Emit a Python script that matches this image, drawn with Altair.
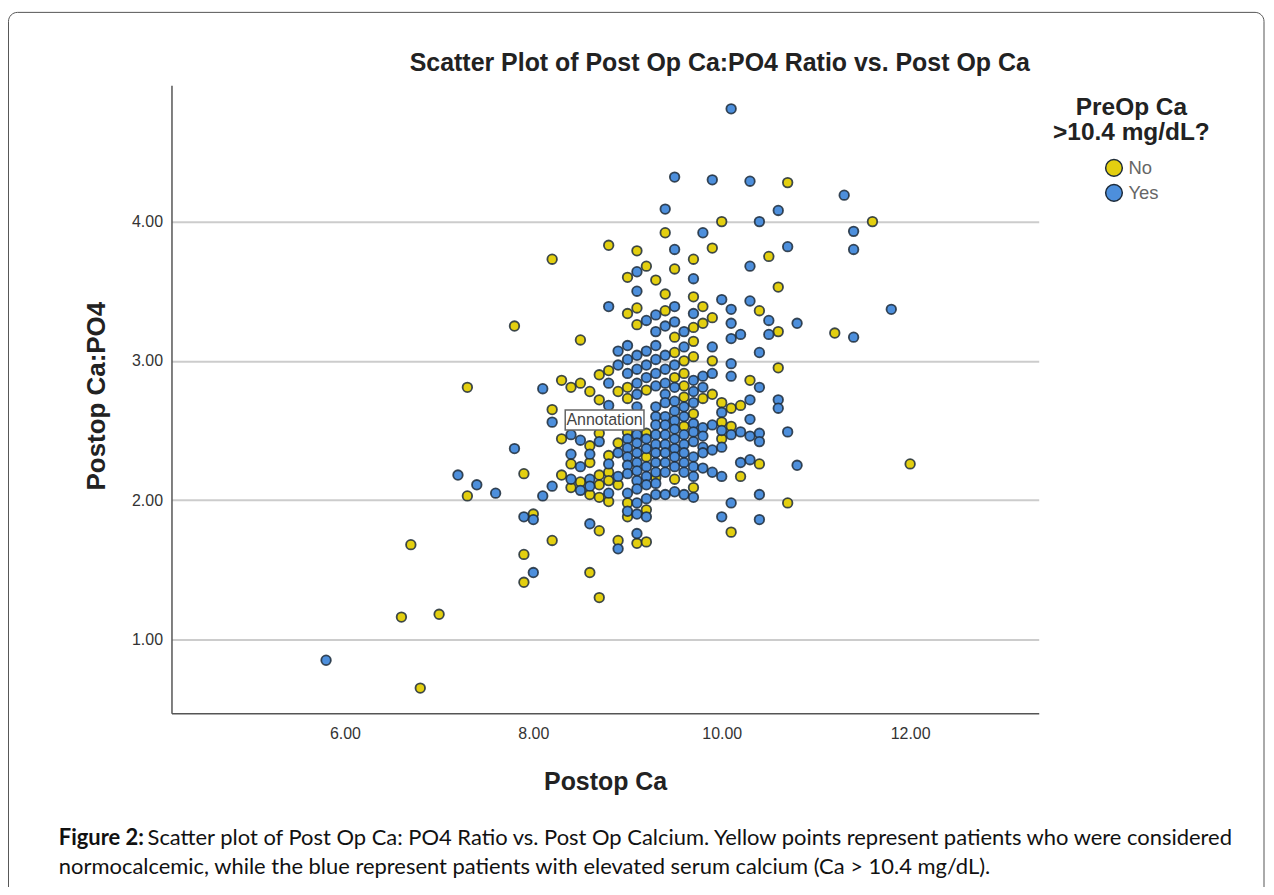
import altair as alt
import pandas as pd

NO_POINTS = [(6.6,1.16),(6.7,1.68),(6.8,0.65),(7.0,1.18),(7.3,2.81),(7.3,2.03),(7.8,3.25),(7.9,2.19),(7.9,1.61),(7.9,1.41),
 (8.0,1.90),(8.2,3.73),(8.2,2.65),(8.2,1.71),(8.3,2.86),(8.3,2.44),(8.3,2.18),(8.4,2.81),(8.4,2.26),(8.4,2.09),
 (8.5,3.15),(8.5,2.84),(8.5,2.13),(8.6,2.78),(8.6,2.39),(8.6,2.27),(8.6,2.04),(8.6,1.48),(8.7,2.90),(8.7,2.72),
 (8.7,2.48),(8.7,2.18),(8.7,2.11),(8.7,2.02),(8.7,1.78),(8.7,1.30),(8.8,3.83),(8.8,2.93),(8.8,2.32),(8.8,2.20),
 (8.8,2.14),(8.8,1.99),(8.9,2.78),(8.9,2.41),(8.9,2.11),(8.9,1.71),(9.0,3.60),(9.0,3.34),(9.0,2.81),(9.0,2.73),
 (9.0,2.49),(9.0,1.98),(9.0,1.88),(9.1,3.79),(9.1,3.38),(9.1,3.26),(9.1,1.69),(9.2,3.68),(9.2,2.79),(9.2,2.48),
 (9.2,2.31),(9.2,1.93),(9.2,1.70),(9.3,3.58),(9.3,2.16),(9.4,3.92),(9.4,3.48),(9.4,3.36),(9.5,3.66),(9.5,3.17),
 (9.5,3.06),(9.5,2.88),(9.5,2.15),(9.6,3.00),(9.6,2.91),(9.6,2.82),(9.6,2.74),(9.6,2.53),(9.7,3.73),(9.7,3.46),
 (9.7,3.24),(9.7,3.14),(9.7,3.03),(9.7,2.62),(9.7,2.09),(9.8,3.39),(9.8,3.27),(9.8,2.73),(9.9,3.81),(9.9,3.31),
 (9.9,3.00),(9.9,2.76),(10.0,4.00),(10.0,2.70),(10.0,2.56),(10.0,2.44),(10.1,2.66),(10.1,2.53),(10.1,1.77),(10.2,2.68),
 (10.2,2.17),(10.3,2.86),(10.4,3.36),(10.4,2.26),(10.5,3.75),(10.6,3.53),(10.6,3.21),(10.6,2.95),(10.7,4.28),(10.7,1.98),
 (11.2,3.20),(11.6,4.00),(12.0,2.26)]

YES_POINTS = [(5.8,0.85),(7.2,2.18),(7.4,2.11),(7.6,2.05),(7.8,2.37),(7.9,1.88),(8.0,1.86),(8.0,1.48),(8.1,2.80),(8.1,2.03),
 (8.2,2.56),(8.2,2.10),(8.4,2.47),(8.4,2.33),(8.4,2.15),(8.5,2.43),(8.5,2.24),(8.5,2.07),(8.6,2.33),(8.6,2.15),
 (8.6,2.10),(8.6,1.83),(8.7,2.42),(8.8,3.39),(8.8,2.84),(8.8,2.68),(8.8,2.26),(8.8,2.05),(8.9,3.07),(8.9,2.97),
 (8.9,2.34),(8.9,2.17),(8.9,1.65),
 (9.0,3.11),(9.0,3.01),(9.0,2.91),(9.0,2.44),(9.0,2.375),(9.0,2.31),(9.0,2.25),(9.0,2.19),(9.0,2.05),(9.0,1.92),
 (9.1,3.64),(9.1,3.50),(9.1,3.04),(9.1,2.94),(9.1,2.84),(9.1,2.76),(9.1,2.67),(9.1,2.47),(9.1,2.41),(9.1,2.34),
 (9.1,2.27),(9.1,2.21),(9.1,2.14),(9.1,2.08),(9.1,1.98),(9.1,1.90),(9.1,1.76),
 (9.2,3.29),(9.2,3.07),(9.2,2.97),(9.2,2.88),(9.2,2.44),(9.2,2.37),(9.2,2.24),(9.2,2.17),(9.2,2.11),(9.2,2.01),(9.2,1.88),
 (9.3,3.33),(9.3,3.21),(9.3,3.11),(9.3,3.01),(9.3,2.91),(9.3,2.82),(9.3,2.67),(9.3,2.60),(9.3,2.54),(9.3,2.47),
 (9.3,2.40),(9.3,2.34),(9.3,2.27),(9.3,2.20),(9.3,2.12),(9.3,2.04),
 (9.4,4.09),(9.4,3.25),(9.4,3.04),(9.4,2.94),(9.4,2.84),(9.4,2.76),(9.4,2.70),(9.4,2.60),(9.4,2.54),(9.4,2.47),
 (9.4,2.40),(9.4,2.34),(9.4,2.27),(9.4,2.20),(9.4,2.04),
 (9.5,4.32),(9.5,3.80),(9.5,3.39),(9.5,3.28),(9.5,2.97),(9.5,2.81),(9.5,2.71),(9.5,2.64),(9.5,2.57),(9.5,2.51),
 (9.5,2.44),(9.5,2.37),(9.5,2.31),(9.5,2.24),(9.5,2.06),
 (9.6,3.21),(9.6,3.10),(9.6,2.67),(9.6,2.60),(9.6,2.47),(9.6,2.40),(9.6,2.34),(9.6,2.27),(9.6,2.20),(9.6,2.04),
 (9.7,3.59),(9.7,3.34),(9.7,2.86),(9.7,2.78),(9.7,2.70),(9.7,2.55),(9.7,2.49),(9.7,2.42),(9.7,2.31),(9.7,2.24),(9.7,2.17),(9.7,2.02),
 (9.8,3.92),(9.8,2.89),(9.8,2.81),(9.8,2.52),(9.8,2.46),(9.8,2.38),(9.8,2.34),(9.8,2.23),
 (9.9,4.30),(9.9,3.10),(9.9,2.91),(9.9,2.54),(9.9,2.36),(9.9,2.20),
 (10.0,3.44),(10.0,2.63),(10.0,2.50),(10.0,2.38),(10.0,2.17),(10.0,1.88),
 (10.1,4.81),(10.1,3.37),(10.1,3.27),(10.1,3.16),(10.1,2.98),(10.1,2.89),(10.1,2.47),(10.1,1.98),
 (10.2,3.19),(10.2,2.49),(10.2,2.27),
 (10.3,4.29),(10.3,3.68),(10.3,3.43),(10.3,2.72),(10.3,2.58),(10.3,2.46),(10.3,2.29),
 (10.4,4.00),(10.4,3.06),(10.4,2.81),(10.4,2.48),(10.4,2.42),(10.4,2.04),(10.4,1.86),
 (10.5,3.29),(10.5,3.19),(10.6,4.08),(10.6,2.72),(10.6,2.66),(10.7,3.82),(10.7,2.49),(10.8,3.27),(10.8,2.25),
 (11.3,4.19),(11.4,3.93),(11.4,3.80),(11.4,3.17),(11.8,3.37)]

GROUPS = ["No", "Yes"]
FILLS = ["#e3cf10", "#4d8fdc"]
X_TICKS = [6, 8, 10, 12]
Y_TICKS = [1, 2, 3, 4]
X_DOMAIN = [4.159, 13.365]
Y_DOMAIN = [0.47, 4.98]
TITLE = "Scatter Plot of Post Op Ca:PO4 Ratio vs. Post Op Ca"
CAPTION_BOLD = "Figure 2:"
CAPTION_1 = "Scatter plot of Post Op Ca: PO4 Ratio vs. Post Op Calcium. Yellow points represent patients who were considered"
CAPTION_2 = "normocalcemic, while the blue represent patients with elevated serum calcium (Ca > 10.4 mg/dL)."

rows = [{"Postop Ca": x, "Ratio": y, "Group": "No"} for x, y in NO_POINTS]
rows += [{"Postop Ca": x, "Ratio": y, "Group": "Yes"} for x, y in YES_POINTS]
df = pd.DataFrame(rows)
one = pd.DataFrame({"a": [0]})

PAD_L, PAD_T = 164, 76
SANS = "Liberation Sans"

frame = alt.Chart(one).mark_rect(fillOpacity=0, stroke="#555555", strokeWidth=1, cornerRadius=9, clip=False).encode(
    x=alt.value(-PAD_L + 0.5), x2=alt.value(1268 - 8 - PAD_L),
    y=alt.value(11 - 8 - PAD_T), y2=alt.value(960))

points = alt.Chart(df).mark_point(filled=True, shape="circle", size=92, stroke="#1d2b3a", strokeWidth=1.8,
                                  opacity=1, strokeOpacity=0.85).encode(
    x=alt.X("Postop Ca:Q", scale=alt.Scale(domain=X_DOMAIN, nice=False, zero=False),
            axis=alt.Axis(values=X_TICKS, format=".2f", grid=False, ticks=False, labelPadding=12,
                          labelFontSize=16, labelColor="#333333", labelFont=SANS,
                          domainColor="#555555", domainWidth=1.5,
                          title="Postop Ca", titleFont=SANS, titleFontSize=25, titleColor="#222222",
                          titleFontWeight="bold", titlePadding=29)),
    y=alt.Y("Ratio:Q", scale=alt.Scale(domain=Y_DOMAIN, nice=False, zero=False),
            axis=alt.Axis(values=Y_TICKS, format=".2f", grid=True, gridColor="#cccccc", gridWidth=2,
                          ticks=False, labelPadding=9, labelFontSize=16, labelColor="#333333", labelFont=SANS,
                          domainColor="#555555", domainWidth=1.5,
                          title="Postop Ca:PO4", titleFont=SANS, titleFontSize=26, titleColor="#222222",
                          titleFontWeight="bold", titlePadding=22, titleY=311.5)),
    fill=alt.Fill("Group:N", scale=alt.Scale(domain=GROUPS, range=FILLS),
                  legend=alt.Legend(title=["PreOp Ca", ">10.4 mg/dL?"], orient="none", legendX=884, legendY=11,
                                    titleFont=SANS, titleFontSize=24.5, titleFontWeight="bold", titleColor="#222222",
                                    titleAnchor="middle", titleAlign="center", titleLimit=300, titleLineHeight=25,
                                    titlePadding=13, labelFont=SANS, labelFontSize=18.5, labelColor="#666666",
                                    symbolType="circle", symbolSize=280, symbolStrokeColor="#1d2b3a",
                                    symbolStrokeWidth=1.5, symbolOffset=0, labelOffset=5, rowPadding=2,
                                    symbolOpacity=1)),
)

note_box = alt.Chart(one).mark_rect(fill="white", stroke="#666666", strokeWidth=1.5).encode(
    x=alt.value(567 - 172), x2=alt.value(646 - 172), y=alt.value(410 - 84), y2=alt.value(430 - 84))
note_text = alt.Chart(one).mark_text(text="Annotation", font=SANS, fontSize=16, color="#444444", align="center", baseline="middle").encode(
    x=alt.value(606.5 - 172), y=alt.value(420 - 84))

CAP = "Lato"
cap_bold = alt.Chart(one).mark_text(text=CAPTION_BOLD, font=CAP, fontSize=22, fontWeight="bold", color="#111111", align="left", baseline="alphabetic").encode(
    x=alt.value(59 - 172), y=alt.value(846 - 84))
cap_1 = alt.Chart(one).mark_text(text=CAPTION_1, font=CAP, fontSize=22, color="#111111", align="left", baseline="alphabetic").encode(
    x=alt.value(148 - 172), y=alt.value(846 - 84))
cap_2 = alt.Chart(one).mark_text(text=CAPTION_2, font=CAP, fontSize=22, color="#111111", align="left", baseline="alphabetic").encode(
    x=alt.value(59 - 172), y=alt.value(875 - 84))

chart = alt.layer(frame, points, note_box, note_text, cap_bold, cap_1, cap_2).properties(
    width=870, height=630,
    padding={"left": PAD_L, "top": PAD_T, "right": 1262 - PAD_L - 870, "bottom": 879 - PAD_T - 630},
    autosize=alt.AutoSizeParams(type="none"),
    title=alt.TitleParams(TITLE, font=SANS, fontSize=25, fontWeight="bold", color="#222222",
                          anchor="middle", dx=115, offset=-64),
    background="white",
).configure_view(stroke=None)

chart.save("out.html", embed_options={"renderer": "svg", "actions": False})
